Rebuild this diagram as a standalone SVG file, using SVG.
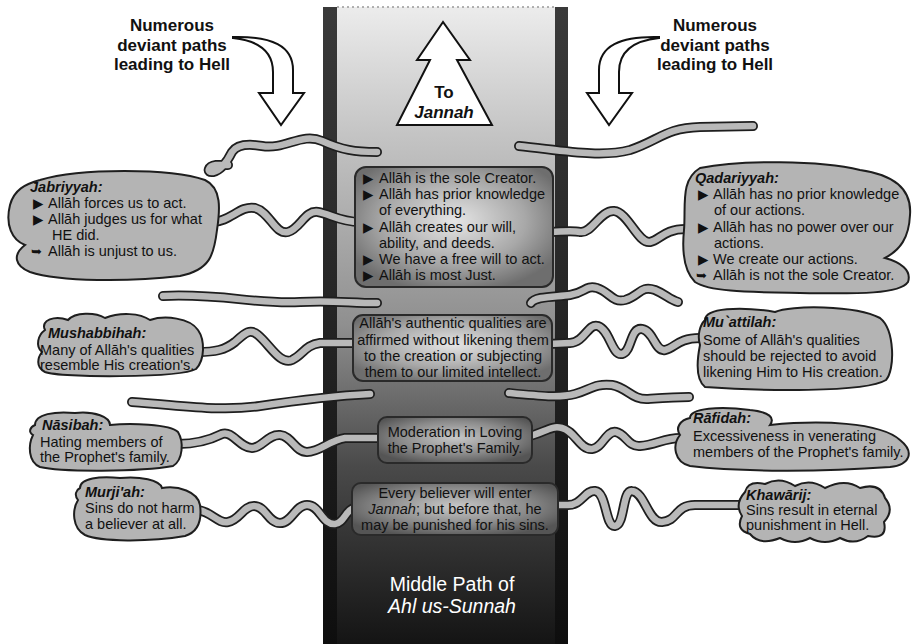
<svg xmlns="http://www.w3.org/2000/svg" width="913" height="644" viewBox="0 0 913 644">
<style>
text{font-family:"Liberation Sans",Arial,"DejaVu Sans",sans-serif;fill:#111}
.hd{font-size:17px;font-weight:bold;text-anchor:middle}
.bt{font-size:14.5px}
.bu{font-family:"DejaVu Sans",sans-serif;font-size:13.5px}
.ar{font-family:"DejaVu Sans",sans-serif;font-size:13px}
.ti{font-size:14.5px;font-weight:bold;font-style:italic}
.ct{font-size:14.5px;text-anchor:middle}
.bub{fill:#b4b4b4;stroke:#1e1e1e;stroke-width:2}
.to{fill:none;stroke:#1e1e1e;stroke-width:10;stroke-linecap:round;stroke-linejoin:round}
.ti2{fill:none;stroke:#b9b9b9;stroke-width:6.5;stroke-linecap:round;stroke-linejoin:round}
.harrow{fill:#fff;stroke:#111;stroke-width:2;stroke-linejoin:miter}
.box{stroke:#2a2a2a;stroke-width:2}
</style>
<defs>
<linearGradient id="pathG" x1="0" y1="0" x2="0" y2="1">
<stop offset="0" stop-color="#ececec"/>
<stop offset="0.2" stop-color="#c4c4c4"/>
<stop offset="0.5" stop-color="#8f8f8f"/>
<stop offset="0.72" stop-color="#4a4a4a"/>
<stop offset="1" stop-color="#141414"/>
</linearGradient>
<linearGradient id="barG" x1="0" y1="0" x2="0" y2="1">
<stop offset="0" stop-color="#3a3a3a"/>
<stop offset="1" stop-color="#0e0e0e"/>
</linearGradient>
<radialGradient id="boxG1" cx="0.5" cy="0.45" r="0.6">
<stop offset="0" stop-color="#e6e6e6"/>
<stop offset="0.6" stop-color="#a8a8a8"/>
<stop offset="1" stop-color="#6e6e6e"/>
</radialGradient>
<radialGradient id="boxG2" cx="0.5" cy="0.45" r="0.6">
<stop offset="0" stop-color="#c8c8c8"/>
<stop offset="0.6" stop-color="#8a8a8a"/>
<stop offset="1" stop-color="#555"/>
</radialGradient>
</defs>
<rect width="913" height="644" fill="#fff"/>

<g id="middle-path">
<rect x="323" y="7" width="245" height="637" fill="url(#barG)"/>
<rect x="337" y="7" width="218" height="637" fill="url(#pathG)"/>
<line x1="337" y1="7" x2="555" y2="7" stroke="#999" stroke-width="1.5" stroke-dasharray="2,3"/>
<text x="452" y="591" style="font-size:19.5px;fill:#fff;text-anchor:middle">Middle Path of</text>
<text x="452" y="613" style="font-size:19.5px;fill:#fff;text-anchor:middle;font-style:italic">Ahl us-Sunnah</text>
</g>

<g id="to-jannah">
<polygon class="harrow" points="443,22 417,60 430,60 397,125 492,125 457,60 470,60"/>
<text x="444" y="98" style="font-size:17px;font-weight:bold;text-anchor:middle">To</text>
<text x="444" y="118" style="font-size:17px;font-weight:bold;font-style:italic;text-anchor:middle">Jannah</text>
</g>

<g id="header-left">
<text class="hd" x="172" y="31">Numerous</text>
<text class="hd" x="172" y="51">deviant paths</text>
<text class="hd" x="172" y="70">leading to Hell</text>
<path class="harrow" d="M233,37 C272,36 293,46 293,70 L293,93 L304,93 L281,125 L259,93 L273,93 L273,72 C273,54 262,41 233,38 Z"/>
</g>

<g id="header-right">
<text class="hd" x="715" y="31">Numerous</text>
<text class="hd" x="715" y="51">deviant paths</text>
<text class="hd" x="715" y="70">leading to Hell</text>
<path class="harrow" d="M659,37 C620,36 599,46 599,70 L599,93 L587,93 L609,125 L632,93 L619,93 L619,72 C619,54 630,41 659,38 Z"/>
</g>

<g id="connectors">
<path class="to" d="M377,152 C355,152 342,150 322,141 C302,132 285,150 262,146 C245,143 236,146 232,152 C228,160 222,170 213,172 C206,173 208,166 216,165 L228,165"/>
<path class="ti2" d="M377,152 C355,152 342,150 322,141 C302,132 285,150 262,146 C245,143 236,146 232,152 C228,160 222,170 213,172 C206,173 208,166 216,165 L228,165"/>
<path class="to" d="M519,146 C560,150 600,158 630,150 C660,140 665,128 700,127 L753,126"/>
<path class="ti2" d="M519,146 C560,150 600,158 630,150 C660,140 665,128 700,127 L753,126"/>
<path class="to" d="M212,222 C230,222 240,205 255,208 C270,212 275,235 288,232 C300,229 305,210 318,212 C330,214 340,222 360,222"/>
<path class="ti2" d="M212,222 C230,222 240,205 255,208 C270,212 275,235 288,232 C300,229 305,210 318,212 C330,214 340,222 360,222"/>
<path class="to" d="M545,232 C560,232 572,230 580,232 C592,234 600,210 614,211 C628,212 638,244 650,242 C660,240 664,229 686,229"/>
<path class="ti2" d="M545,232 C560,232 572,230 580,232 C592,234 600,210 614,211 C628,212 638,244 650,242 C660,240 664,229 686,229"/>
<path class="to" d="M163,296 C220,293 260,305 300,302 C330,300 350,303 377,303"/>
<path class="ti2" d="M163,296 C220,293 260,305 300,302 C330,300 350,303 377,303"/>
<path class="to" d="M531,303 C535,296 555,297 570,295 C585,293 585,285 597,288 C610,292 612,303 625,300 C640,296 640,285 655,290 C665,294 670,300 678,302"/>
<path class="ti2" d="M531,303 C535,296 555,297 570,295 C585,293 585,285 597,288 C610,292 612,303 625,300 C640,296 640,285 655,290 C665,294 670,300 678,302"/>
<path class="to" d="M198,352 C215,352 225,350 235,342 C245,333 250,328 258,335 C270,345 280,365 292,360 C303,355 305,345 320,343 L358,343"/>
<path class="ti2" d="M198,352 C215,352 225,350 235,342 C245,333 250,328 258,335 C270,345 280,365 292,360 C303,355 305,345 320,343 L358,343"/>
<path class="to" d="M548,344 L570,343 C585,342 588,323 598,326 C610,330 612,356 622,354 C632,352 630,327 642,329 C654,331 655,352 665,350 C675,348 678,338 700,338"/>
<path class="ti2" d="M548,344 L570,343 C585,342 588,323 598,326 C610,330 612,356 622,354 C632,352 630,327 642,329 C654,331 655,352 665,350 C675,348 678,338 700,338"/>
<path class="to" d="M132,402 C180,405 220,412 260,406 C300,400 330,396 370,394"/>
<path class="ti2" d="M132,402 C180,405 220,412 260,406 C300,400 330,396 370,394"/>
<path class="to" d="M509,393 C540,396 560,398 575,394 C590,390 595,383 612,385 C628,388 632,400 648,399 C662,398 675,397 689,397"/>
<path class="ti2" d="M509,393 C540,396 560,398 575,394 C590,390 595,383 612,385 C628,388 632,400 648,399 C662,398 675,397 689,397"/>
<path class="to" d="M178,444 C195,444 210,440 222,434 C232,430 240,448 252,448 C262,448 268,434 280,435 C292,436 295,452 307,452 C320,452 330,440 345,438 L383,438"/>
<path class="ti2" d="M178,444 C195,444 210,440 222,434 C232,430 240,448 252,448 C262,448 268,434 280,435 C292,436 295,452 307,452 C320,452 330,440 345,438 L383,438"/>
<path class="to" d="M526,437 C545,433 550,425 562,428 C575,431 580,450 592,449 C603,448 606,430 616,432 C626,434 628,447 640,446 C655,445 665,438 680,438"/>
<path class="ti2" d="M526,437 C545,433 550,425 562,428 C575,431 580,450 592,449 C603,448 606,430 616,432 C626,434 628,447 640,446 C655,445 665,438 680,438"/>
<path class="to" d="M198,510 C212,512 218,524 228,522 C240,520 243,506 254,506 C266,506 268,523 280,523 C292,523 295,505 307,505 C320,505 322,525 335,524 C345,523 345,508 358,507"/>
<path class="ti2" d="M198,510 C212,512 218,524 228,522 C240,520 243,506 254,506 C266,506 268,523 280,523 C292,523 295,505 307,505 C320,505 322,525 335,524 C345,523 345,508 358,507"/>
<path class="to" d="M552,505 L568,505 C582,505 585,490 595,491 C607,492 605,527 615,526 C625,525 622,490 632,491 C645,492 648,523 662,522 C678,521 675,505 695,505 L742,505"/>
<path class="ti2" d="M552,505 L568,505 C582,505 585,490 595,491 C607,492 605,527 615,526 C625,525 622,490 632,491 C645,492 648,523 662,522 C678,521 675,505 695,505 L742,505"/>
</g>

<g id="center-1">
<rect class="box" x="355" y="167" width="198" height="120" rx="11" fill="url(#boxG1)"/>
<text class="bu" x="363" y="183">▶</text><text class="bt" x="379" y="183">Allāh is the sole Creator.</text>
<text class="bu" x="363" y="199">▶</text><text class="bt" x="379" y="199">Allāh has prior knowledge</text>
<text class="bt" x="379" y="215">of everything.</text>
<text class="bu" x="363" y="232">▶</text><text class="bt" x="379" y="232">Allāh creates our will,</text>
<text class="bt" x="379" y="248">ability, and deeds.</text>
<text class="bu" x="363" y="264">▶</text><text class="bt" x="379" y="264">We have a free will to act.</text>
<text class="bu" x="363" y="280">▶</text><text class="bt" x="379" y="280">Allāh is most Just.</text>
</g>

<g id="center-2">
<rect class="box" x="353" y="315" width="199" height="66" rx="10" fill="url(#boxG1)"/>
<text class="ct" x="453" y="328">Allāh's authentic qualities are</text>
<text class="ct" x="453" y="345">affirmed without likening them</text>
<text class="ct" x="453" y="361">to the creation or subjecting</text>
<text class="ct" x="453" y="377">them to our limited intellect.</text>
</g>

<g id="center-3">
<rect class="box" x="378" y="417" width="154" height="46" rx="9" fill="url(#boxG2)"/>
<text class="ct" x="455" y="437">Moderation in Loving</text>
<text class="ct" x="455" y="453">the Prophet's Family.</text>
</g>

<g id="center-4">
<rect class="box" x="352" y="483" width="206" height="52" rx="9" fill="url(#boxG2)"/>
<text class="ct" x="455" y="498">Every believer will enter</text>
<text class="ct" x="455" y="514"><tspan font-style="italic">Jannah</tspan>; but before that, he</text>
<text class="ct" x="455" y="530">may be punished for his sins.</text>
</g>

<g id="jabriyyah">
<path class="bub" d="M40,180 C80,168 170,168 205,180 C222,188 220,210 217,230 C214,255 210,270 180,276 C130,282 60,282 30,272 C15,266 12,255 25,245 C12,240 5,225 10,205 C14,190 25,184 40,180 Z"/>
<text class="ti" x="30" y="192">Jabriyyah:</text>
<text class="bu" x="33" y="208">▶</text><text class="bt" x="48" y="208">Allāh forces us to act.</text>
<text class="bu" x="33" y="224">▶</text><text class="bt" x="48" y="224">Allāh judges us for what</text>
<text class="bt" x="52" y="240">HE did.</text>
<text class="ar" x="31" y="256">➥</text><text class="bt" x="48" y="256">Allāh is unjust to us.</text>
</g>

<g id="qadariyyah">
<path class="bub" d="M700,168 C740,160 820,160 860,170 C895,175 912,190 910,215 C909,238 900,250 885,258 C900,262 912,270 908,282 C900,294 860,294 800,293 C750,292 710,292 695,282 C683,270 682,250 684,230 C686,205 680,180 700,168 Z"/>
<text class="ti" x="695" y="183">Qadariyyah:</text>
<text class="bu" x="698" y="199">▶</text><text class="bt" x="713" y="199">Allāh has no prior knowledge</text>
<text class="bt" x="714" y="215">of our actions.</text>
<text class="bu" x="698" y="232">▶</text><text class="bt" x="713" y="232">Allāh has no power over our</text>
<text class="bt" x="714" y="248">actions.</text>
<text class="bu" x="698" y="264">▶</text><text class="bt" x="713" y="264">We create our actions.</text>
<text class="ar" x="696" y="280">➥</text><text class="bt" x="713" y="280">Allāh is not the sole Creator.</text>
</g>

<g id="mushabbihah">
<path class="bub" d="M45,330 C40,320 55,315 68,320 C75,312 95,312 105,318 C120,312 140,313 150,320 C165,315 190,318 198,330 C205,340 205,360 196,369 C180,378 60,378 45,372 C35,367 38,357 42,352 C35,346 38,335 45,330 Z"/>
<text class="ti" x="48" y="338">Mushabbihah:</text>
<text class="bt" x="40" y="355">Many of Allāh's qualities</text>
<text class="bt" x="40" y="370">resemble His creation's.</text>
</g>

<g id="muattilah">
<path class="bub" d="M705,320 C705,308 740,306 775,312 C790,305 855,305 880,318 C895,330 895,370 886,380 C865,393 760,391 705,387 C695,379 697,360 700,345 C697,335 700,325 705,320 Z"/>
<text class="ti" x="703" y="327">Mu`attilah:</text>
<text class="bt" x="703" y="345">Some of Allāh's qualities</text>
<text class="bt" x="703" y="361">should be rejected to avoid</text>
<text class="bt" x="703" y="377">likening Him to His creation.</text>
</g>

<g id="nasibah">
<path class="bub" d="M35,425 C35,414 55,411 75,413 C95,411 110,417 110,425 C130,423 170,424 178,432 C184,442 183,460 173,466 C140,472 60,472 40,467 C28,462 28,445 33,435 C28,432 30,427 35,425 Z"/>
<text class="ti" x="42" y="430">Nāsibah:</text>
<text class="bt" x="40" y="447">Hating members of</text>
<text class="bt" x="40" y="462">the Prophet's family.</text>
</g>

<g id="rafidah">
<path class="bub" d="M690,418 C690,408 720,406 750,410 C770,412 775,418 770,425 C820,420 880,422 900,440 C915,452 910,465 890,467 C820,472 740,472 690,466 C674,462 672,445 680,435 C675,428 680,420 690,418 Z"/>
<text class="ti" x="693" y="423">Rāfidah:</text>
<text class="bt" x="693" y="441">Excessiveness in venerating</text>
<text class="bt" x="693" y="457">members of the Prophet's family.</text>
</g>

<g id="murjiah">
<path class="bub" d="M80,488 C80,478 100,476 120,478 C140,476 160,480 162,488 C178,485 198,492 200,505 C202,520 198,532 185,536 C150,542 100,542 85,535 C72,528 72,510 78,500 C74,495 76,490 80,488 Z"/>
<text class="ti" x="85" y="497">Murji'ah:</text>
<text class="bt" x="85" y="513">Sins do not harm</text>
<text class="bt" x="85" y="529">a believer at all.</text>
</g>

<g id="khawarij">
<path class="bub" d="M745,492 Q748,480 765,484 Q780,476 795,486 Q810,478 825,488 Q845,478 860,488 Q880,482 885,498 Q895,510 884,522 Q888,540 868,536 Q855,546 840,538 Q825,546 810,538 Q795,546 780,538 Q760,546 750,534 Q735,530 742,516 Q734,504 745,492 Z"/>
<text class="ti" x="746" y="500">Khawārij:</text>
<text class="bt" x="746" y="515">Sins result in eternal</text>
<text class="bt" x="746" y="530">punishment in Hell.</text>
</g>
</svg>
